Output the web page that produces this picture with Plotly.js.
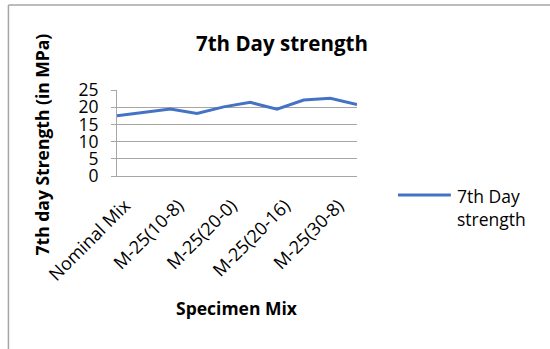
<!DOCTYPE html>
<html>
<head>
<meta charset="utf-8">
<script src="https://cdn.plot.ly/plotly-3.0.1.min.js"></script>
<style>html,body{margin:0;padding:0;background:#fff;}#chart{width:550px;height:349px;}</style>
</head>
<body>
<div id="chart"></div>
<script>
const categories = ["Nominal Mix","M-25(10-0)","M-25(10-8)","M-25(10-16)","M-25(20-0)","M-25(20-8)","M-25(20-16)","M-25(30-0)","M-25(30-8)","M-25(30-16)"];
const strength7 = [17.5, 18.5, 19.5, 18.2, 20.1, 21.4, 19.4, 22.1, 22.6, 20.8];
const shownTickLabels = ["Nominal Mix","M-25(10-8)","M-25(20-0)","M-25(20-16)","M-25(30-8)"];
const seriesName = "7th Day<br>strength";

const L = 116.7, R = 357, T = 90, B = 176;
const px = x => (x - L) / (R - L);
const py = y => (B - y) / (B - T);
const font = "Open Sans, sans-serif";
const blue = "#4472C4";

const trace = {
  x: categories, y: strength7, type: "scatter", mode: "lines",
  name: seriesName, line: {color: blue, width: 3}
};

const layout = {
  width: 550, height: 349,
  margin: {l: L, r: 550 - R, t: T, b: 349 - B},
  paper_bgcolor: "#fff", plot_bgcolor: "#fff",
  font: {family: font, color: "#000"},
  showlegend: false,
  xaxis: {
    type: "category", tickmode: "array",
    tickvals: [categories[0], categories[2], categories[4], categories[6], categories[8]],
    ticktext: shownTickLabels, tickangle: -45,
    tickfont: {size: 18, family: font},
    ticklabelshift: 8, ticklabelstandoff: 11,
    showgrid: false, showline: true, linecolor: "#a6a6a6", linewidth: 1,
    ticks: "", zeroline: false, fixedrange: true, automargin: false
  },
  yaxis: {
    range: [0, 25], dtick: 5, tick0: 0,
    tickfont: {size: 17.5, family: font},
    ticklabelstandoff: 9,
    showgrid: true, gridcolor: "#a6a6a6", gridwidth: 1,
    showline: true, linecolor: "#a6a6a6", linewidth: 1,
    ticks: "outside", ticklen: 5, tickcolor: "#a6a6a6",
    zeroline: false, fixedrange: true, automargin: false
  },
  annotations: [
    {text: "<b>7th Day strength</b>", xref: "paper", yref: "paper", x: px(282), y: py(43), xanchor: "center", yanchor: "middle", showarrow: false, font: {size: 20.5, family: font}},
    {text: "<b>7th day Strength (in MPa)</b>", xref: "paper", yref: "paper", x: px(42), y: py(144), xanchor: "center", yanchor: "middle", textangle: -90, showarrow: false, font: {size: 17.5, family: font}},
    {text: "<b>Specimen Mix</b>", xref: "paper", yref: "paper", x: px(237), y: py(308), xanchor: "center", yanchor: "middle", showarrow: false, font: {size: 17.5, family: font}},
    {text: seriesName, xref: "paper", yref: "paper", x: px(455), y: py(207.5), xanchor: "left", yanchor: "middle", align: "left", showarrow: false, font: {size: 17.5, family: font}}
  ],
  shapes: [
    {type: "line", xref: "paper", yref: "paper", x0: px(8), x1: px(551), y0: py(5), y1: py(5), line: {color: "#a6a6a6", width: 1.5}},
    {type: "line", xref: "paper", yref: "paper", x0: px(8), x1: px(8), y0: py(5), y1: py(350), line: {color: "#a6a6a6", width: 1.5}},
    {type: "line", xref: "paper", yref: "paper", x0: px(398), x1: px(451), y0: py(195), y1: py(195), line: {color: blue, width: 3}}
  ]
};

Plotly.newPlot("chart", [trace], layout, {staticPlot: true, displayModeBar: false});
</script>
</body>
</html>
